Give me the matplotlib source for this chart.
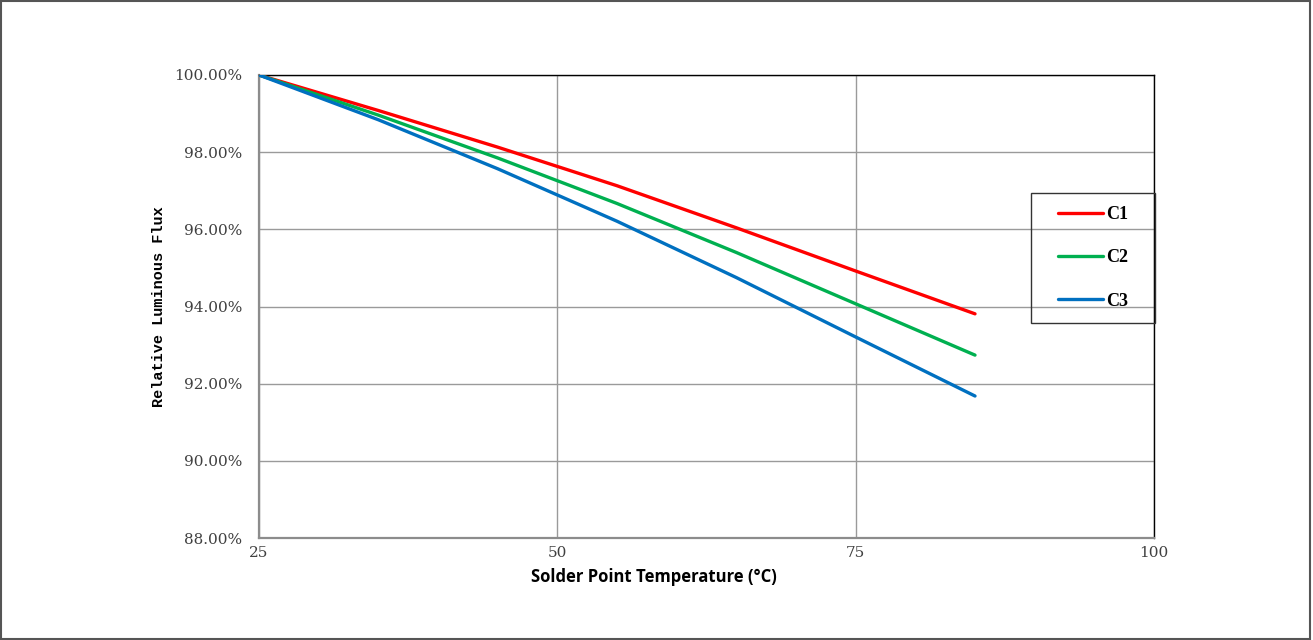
import matplotlib
matplotlib.use("Agg")
import matplotlib.pyplot as plt
from matplotlib.patches import Rectangle

# 数据
temps = [25, 35, 45, 55, 65, 75, 85]
c1 = [100.0, 99.08, 98.13, 97.13, 96.04, 94.92, 93.81]
c2 = [100.0, 98.96, 97.85, 96.67, 95.40, 94.07, 92.74]
c3 = [100.0, 98.84, 97.57, 96.21, 94.75, 93.21, 91.68]
series_names = ["C1", "C2", "C3"]
series_colors = ["#FF0000", "#00B050", "#0070C0"]
x_ticks = [25, 50, 75, 100]
y_ticks = [88, 90, 92, 94, 96, 98, 100]

W, H = 1313, 640
fig = plt.figure(figsize=(W / 100, H / 100), dpi=100)
ax = fig.add_axes([259 / W, 1 - 538 / H, (1154 - 259) / W, (538 - 75) / H])

lines = []
for vals, name, col in zip([c1, c2, c3], series_names, series_colors):
    ln, = ax.plot(temps, vals, color=col, lw=2.4, label=name,
                  solid_capstyle="round", solid_joinstyle="round", zorder=3)
    lines.append(ln)

ax.set_xlim(25, 100)
ax.set_ylim(88, 100)
ax.set_xticks(x_ticks)
ax.set_yticks(y_ticks)
ax.set_yticklabels([f"{v:.2f}%" for v in y_ticks])
ax.tick_params(length=0, labelsize=11, labelcolor="#404040")
ax.tick_params(axis="y", pad=12)
ax.tick_params(axis="x", pad=6)
for lab in ax.get_xticklabels() + ax.get_yticklabels():
    lab.set_family("DejaVu Serif")

ax.grid(True, color="#9a9a9a", lw=1)
ax.set_axisbelow(True)
for side in ["left", "bottom"]:
    ax.spines[side].set_color("#8c8c8c")
    ax.spines[side].set_linewidth(1.6)
for side in ["top", "right"]:
    ax.spines[side].set_color("black")
    ax.spines[side].set_linewidth(1.0)

ax.set_ylabel("Relative Luminous Flux", family="Liberation Mono",
              fontweight="bold", fontsize=11, labelpad=6)
fig.text(654 / W, 1 - 577 / H, "Solder Point Temperature (°C)",
         family="Open Sans", fontweight="bold", fontsize=12,
         ha="center", va="center")

# 图例框
fig.patches.append(Rectangle((1031 / W, 1 - 323 / H), 124 / W, 130 / H,
                             transform=fig.transFigure, fill=False,
                             edgecolor="#333333", lw=1.0, zorder=5))
fig.legend(handles=lines, loc="center", frameon=False,
           bbox_to_anchor=((1031 + 62) / W, 1 - 258 / H),
           prop={"family": "Liberation Serif", "weight": "bold", "size": 13},
           handlelength=2.5, handletextpad=0.15, labelspacing=1.45)

# 外框
fig.patches.append(Rectangle((0.001, 0.001), 0.997, 0.997,
                             transform=fig.transFigure, fill=False,
                             edgecolor="#555555", lw=1.5))

fig.savefig("out.png", dpi=100)
